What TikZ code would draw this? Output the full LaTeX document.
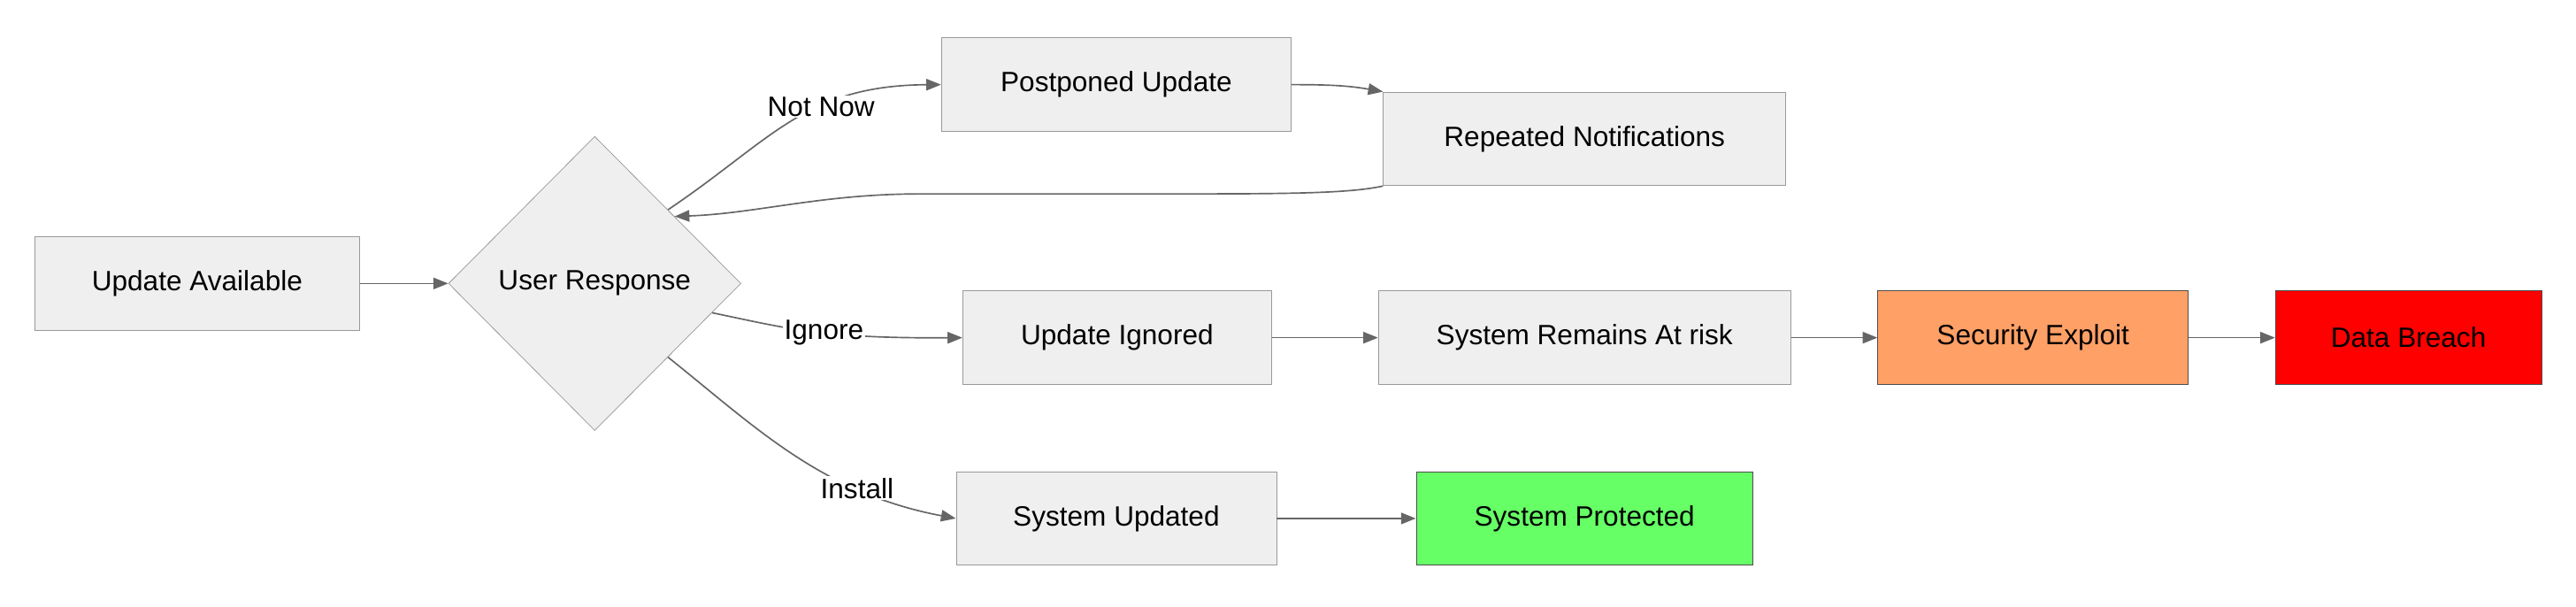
\documentclass[tikz,border=0pt]{standalone}
\usepackage{fontspec}
\setmainfont{Liberation Sans}
\usetikzlibrary{shapes.geometric,arrows.meta}
\definecolor{boxfill}{HTML}{EFEFEF}
\definecolor{boxline}{HTML}{999999}
\definecolor{linkcol}{HTML}{666666}
\definecolor{exploitfill}{HTML}{FFA066}
\definecolor{breachfill}{HTML}{FF0000}
\definecolor{safefill}{HTML}{66FF66}
\begin{document}
\begin{tikzpicture}[x=1pt, y=-1pt,
  box/.style={draw=boxline, fill=boxfill, minimum height=57pt, inner sep=0pt, font=\fontsize{17}{20}\selectfont},
  choice/.style={diamond, draw=boxline, fill=boxfill, minimum width=178pt, minimum height=179pt, inner sep=0pt, font=\fontsize{17}{20}\selectfont},
  link/.style={draw=linkcol, line width=0.9pt, -{Triangle[length=9pt,width=7pt]}},
  tag/.style={fill=white, inner sep=1pt, font=\fontsize{17}{20}\selectfont}]

  \useasboundingbox (0,0) rectangle (1568,369);

  % nodes
  \node[box, minimum width=198pt] (avail) at (120,172.5) {Update Available};
  \node[choice] (resp) at (362,172.5) {User Response};
  \node[box, minimum width=213pt] (post) at (679.5,51.5) {Postponed Update};
  \node[box, minimum width=245pt] (notif) at (964.5,84.5) {Repeated Notifications};
  \node[box, minimum width=188pt] (ignored) at (680,205.5) {Update Ignored};
  \node[box, minimum width=251pt] (risk) at (964.5,205.5) {System Remains At risk};
  \node[box, fill=exploitfill, draw=black!70, minimum width=189pt] (exploit) at (1237.5,205.5) {Security Exploit};
  \node[box, fill=breachfill, draw=black!70, minimum width=162pt] (breach) at (1466,205.5) {Data Breach};
  \node[box, minimum width=195pt] (updated) at (679.5,315.5) {System Updated};
  \node[box, fill=safefill, draw=black!70, minimum width=205pt] (prot) at (964.5,315.5) {System Protected};

  % connectors
  \draw[link] (avail) -- (resp);
  \draw[link] (resp.north east) .. controls (470,85) and (490,52) ..
    node[tag, pos=0.62] {Not Now} (post.west);
  \draw[link] (post.east) to[out=0, in=170] (notif.north west);
  \draw[link] (notif.south west) .. controls (820,118) and (780,118) .. (700,118)
    -- (560,118) .. controls (500,118) and (460,130) .. (resp.40);
  \draw[link] (resp.-14) .. controls (480,200) and (500,206) ..
    node[tag, pos=0.55] {Ignore} (ignored.west);
  \draw[link] (ignored) -- (risk);
  \draw[link] (risk) -- (exploit);
  \draw[link] (exploit) -- (breach);
  \draw[link] (resp.south east) .. controls (460,260) and (500,300) ..
    node[tag, pos=0.72] {Install} (updated.west);
  \draw[link] (updated) -- (prot);

\end{tikzpicture}
\end{document}
